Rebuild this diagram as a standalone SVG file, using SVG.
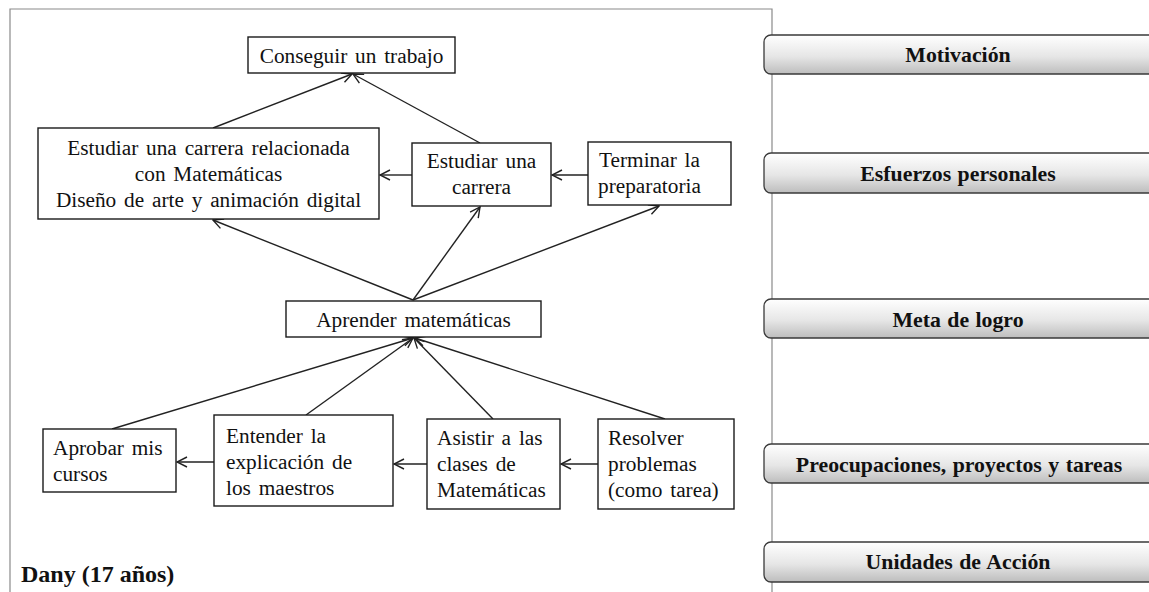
<svg xmlns="http://www.w3.org/2000/svg" width="1149" height="592" viewBox="0 0 1149 592">
  <style>
    .box { fill: #ffffff; stroke: #1a1a1a; stroke-width: 1.4; }
    .t { font-family: "Liberation Serif", "Times New Roman", serif; font-size: 21.3px; word-spacing: 2.5px; fill: #111; }
    .c { text-anchor: middle; }
    .bar { fill: url(#barFill); stroke: #3a3a3a; stroke-width: 1.3; }
    .bt { font-family: "Liberation Serif", "Times New Roman", serif; font-size: 21.8px; font-weight: bold; word-spacing: 1px; fill: #111; text-anchor: middle; }
    .edge { stroke: #222; stroke-width: 1.4; fill: none; marker-end: url(#open); }
  </style>
  <defs>
    <linearGradient id="barFill" x1="0" y1="0" x2="0" y2="1">
      <stop offset="0" stop-color="#ffffff"/>
      <stop offset="0.55" stop-color="#e6e6e6"/>
      <stop offset="1" stop-color="#bdbdbd"/>
    </linearGradient>
    <marker id="open" viewBox="0 0 12 12" refX="11" refY="6" markerWidth="12" markerHeight="12" markerUnits="userSpaceOnUse" orient="auto">
      <path d="M1,1 L11,6 L1,11" fill="none" stroke="#222" stroke-width="1.4"/>
    </marker>
  </defs>

  <rect width="1149" height="592" fill="#ffffff"/>

  <!-- frame around the diagram (open at the bottom) -->
  <path d="M10,600 L10,9 L772,9 L772,600" fill="none" stroke="#8a8a8a" stroke-width="1.2"/>

  <!-- connectors -->
  <g id="connectors">
    <line class="edge" x1="213" y1="128" x2="352" y2="74"/>
    <line class="edge" x1="480" y1="143" x2="353" y2="74"/>
    <line class="edge" x1="412" y1="175" x2="380" y2="175"/>
    <line class="edge" x1="588" y1="175" x2="552" y2="175"/>
    <line class="edge" x1="413" y1="300" x2="213" y2="220"/>
    <line class="edge" x1="413" y1="300" x2="480" y2="207"/>
    <line class="edge" x1="413" y1="300" x2="659" y2="206"/>
    <line class="edge" x1="112" y1="429" x2="413" y2="338"/>
    <line class="edge" x1="306" y1="415" x2="413" y2="338"/>
    <line class="edge" x1="493" y1="419" x2="414" y2="338"/>
    <line class="edge" x1="665" y1="419" x2="415" y2="338"/>
    <line class="edge" x1="214" y1="462" x2="177" y2="462"/>
    <line class="edge" x1="427" y1="464" x2="394" y2="464"/>
    <line class="edge" x1="598" y1="464" x2="561" y2="464"/>
  </g>

  <!-- nodes -->
  <g id="conseguir">
    <rect class="box" x="248" y="37" width="207" height="36"/>
    <text class="t c" x="351.5" y="63">Conseguir un trabajo</text>
  </g>
  <g id="estudiar-relacionada">
    <rect class="box" x="38" y="128" width="341" height="91"/>
    <text class="t c" x="208.5" y="155">Estudiar una carrera relacionada</text>
    <text class="t c" x="208.5" y="181">con Matemáticas</text>
    <text class="t c" x="208.5" y="207">Diseño de arte y animación digital</text>
  </g>
  <g id="estudiar-carrera">
    <rect class="box" x="412" y="143" width="139" height="63"/>
    <text class="t c" x="481.5" y="168">Estudiar una</text>
    <text class="t c" x="481.5" y="194">carrera</text>
  </g>
  <g id="terminar">
    <rect class="box" x="588" y="142" width="143" height="63"/>
    <text class="t" x="599" y="167">Terminar la</text>
    <text class="t" x="598" y="193">preparatoria</text>
  </g>
  <g id="aprender">
    <rect class="box" x="286" y="301" width="255" height="36"/>
    <text class="t c" x="413.5" y="327">Aprender matemáticas</text>
  </g>
  <g id="aprobar">
    <rect class="box" x="43" y="429" width="133" height="63"/>
    <text class="t" x="53" y="455">Aprobar mis</text>
    <text class="t" x="53" y="481">cursos</text>
  </g>
  <g id="entender">
    <rect class="box" x="214" y="415" width="179" height="91"/>
    <text class="t" x="226" y="443">Entender la</text>
    <text class="t" x="226" y="469">explicación de</text>
    <text class="t" x="226" y="495">los maestros</text>
  </g>
  <g id="asistir">
    <rect class="box" x="427" y="419" width="133" height="90"/>
    <text class="t" x="437" y="445">Asistir a las</text>
    <text class="t" x="437" y="471">clases de</text>
    <text class="t" x="437" y="497">Matemáticas</text>
  </g>
  <g id="resolver">
    <rect class="box" x="598" y="419" width="136" height="90"/>
    <text class="t" x="608" y="445">Resolver</text>
    <text class="t" x="608" y="471">problemas</text>
    <text class="t" x="608" y="497">(como tarea)</text>
  </g>

  <!-- level labels -->
  <g id="nivel-motivacion">
    <rect class="bar" x="764" y="35" width="400" height="39" rx="7"/>
    <text class="bt" x="958" y="62">Motivación</text>
  </g>
  <g id="nivel-esfuerzos">
    <rect class="bar" x="764" y="153" width="400" height="40" rx="7"/>
    <text class="bt" x="958" y="181">Esfuerzos personales</text>
  </g>
  <g id="nivel-meta">
    <rect class="bar" x="764" y="299" width="400" height="39" rx="7"/>
    <text class="bt" x="958" y="327">Meta de logro</text>
  </g>
  <g id="nivel-preocupaciones">
    <rect class="bar" x="764" y="444" width="400" height="39" rx="7"/>
    <text class="bt" x="959" y="472">Preocupaciones, proyectos y tareas</text>
  </g>
  <g id="nivel-unidades">
    <rect class="bar" x="764" y="542" width="400" height="40" rx="7"/>
    <text class="bt" x="958" y="569">Unidades de Acción</text>
  </g>

  <text x="21" y="582" font-family="'Liberation Serif', 'Times New Roman', serif" font-size="24px" font-weight="bold" fill="#111">Dany (17 años)</text>
</svg>
